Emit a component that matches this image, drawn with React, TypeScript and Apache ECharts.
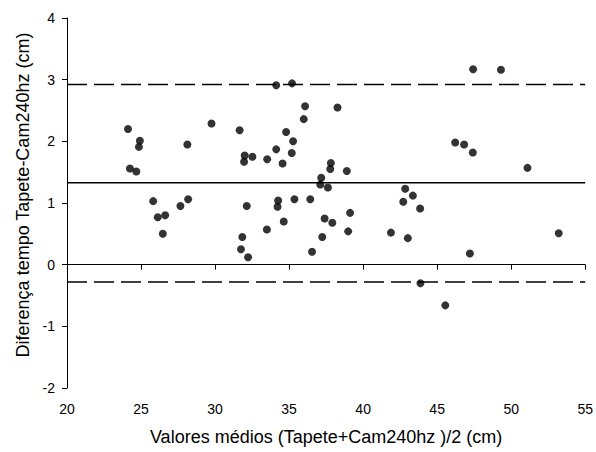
import React, { useEffect, useRef } from "react";
import * as echarts from "echarts";

const meanValues: number[] = [
  24.12, 24.92, 24.86, 24.25, 24.68, 29.76, 28.13, 31.66, 25.82, 26.13, 26.63, 26.47, 27.66, 28.18,
  34.13, 35.2, 36.08, 38.27, 35.99, 34.8, 35.27, 34.13, 35.18, 32.0, 31.96, 32.52, 33.52, 34.56,
  37.82, 37.78, 38.9, 37.17, 37.11, 37.62, 32.14, 34.26, 34.22, 35.36, 36.43, 39.12, 34.64, 37.4,
  37.92, 33.5, 38.99, 31.84, 37.24, 41.88, 47.43, 49.31, 46.22, 46.82, 47.41, 51.1, 42.84, 43.36,
  42.71, 43.85, 43.02, 53.21, 47.21, 43.87, 45.55, 31.75, 32.23, 36.55,
];
const diffValues: number[] = [
  2.2, 2.01, 1.91, 1.56, 1.51, 2.29, 1.95, 2.18, 1.03, 0.77, 0.8, 0.5, 0.95, 1.06,
  2.91, 2.94, 2.57, 2.55, 2.36, 2.15, 2.0, 1.87, 1.81, 1.77, 1.67, 1.75, 1.71, 1.64,
  1.65, 1.55, 1.52, 1.41, 1.3, 1.25, 0.95, 1.04, 0.94, 1.06, 1.06, 0.84, 0.7, 0.75,
  0.68, 0.57, 0.54, 0.45, 0.45, 0.52, 3.17, 3.16, 1.98, 1.95, 1.82, 1.57, 1.23, 1.12,
  1.02, 0.91, 0.43, 0.51, 0.18, -0.3, -0.66, 0.25, 0.12, 0.21,
];
const meanDiff = 1.33;
const upperLimit = 2.92;
const lowerLimit = -0.28;
const xRange = [20, 55];

export default function App() {
  const ref = useRef<HTMLDivElement>(null);
  useEffect(() => {
    if (!ref.current) return;
    const chart = echarts.init(ref.current, undefined, { renderer: "svg" });
    const font = "Liberation Sans, Arial, sans-serif";
    const hline = (v: number, type: any) => ({
      type: "line",
      data: [[xRange[0], v], [xRange[1], v]],
      symbol: "none",
      lineStyle: { color: "#000", width: 1.5, type },
      silent: true,
      z: 1,
    });
    chart.setOption({
      animation: false,
      backgroundColor: "#fff",
      grid: { left: 67, right: 8, top: 18, bottom: 64, containLabel: false },
      xAxis: {
        type: "value",
        min: 20,
        max: 55,
        interval: 5,
        name: "Valores médios (Tapete+Cam240hz )/2 (cm)",
        nameLocation: "middle",
        nameGap: 40,
        nameTextStyle: { fontFamily: font, fontSize: 18, color: "#000" },
        axisLine: { show: true, lineStyle: { color: "#000", width: 1 } },
        axisTick: { show: true, inside: false, length: 5, lineStyle: { color: "#000" } },
        axisLabel: { fontFamily: font, fontSize: 14, color: "#000", margin: 14 },
        splitLine: { show: false },
      },
      yAxis: {
        type: "value",
        min: -2,
        max: 4,
        interval: 1,
        name: "Diferença tempo Tapete-Cam240hz (cm)",
        nameLocation: "middle",
        nameGap: 32,
        nameRotate: 90,
        nameTextStyle: { fontFamily: font, fontSize: 18, color: "#000", padding: [0, 0, 0, 16] },
        axisLine: { show: true, lineStyle: { color: "#000", width: 1 } },
        axisTick: { show: true, inside: false, length: 5, lineStyle: { color: "#000" } },
        axisLabel: { fontFamily: font, fontSize: 14, color: "#000", margin: 12 },
        splitLine: { show: false },
      },
      series: [
        hline(meanDiff, "solid"),
        hline(upperLimit, [20, 7]),
        hline(lowerLimit, [20, 7]),
        {
          type: "scatter",
          data: meanValues.map((x, i) => [x, diffValues[i]]),
          symbol: "circle",
          symbolSize: 8,
          itemStyle: { color: "#000" },
          z: 3,
        },
      ],
    });
    return () => chart.dispose();
  }, []);
  return <div ref={ref} style={{ width: 596, height: 452, position: "absolute", left: 0, top: 0 }} />;
}
